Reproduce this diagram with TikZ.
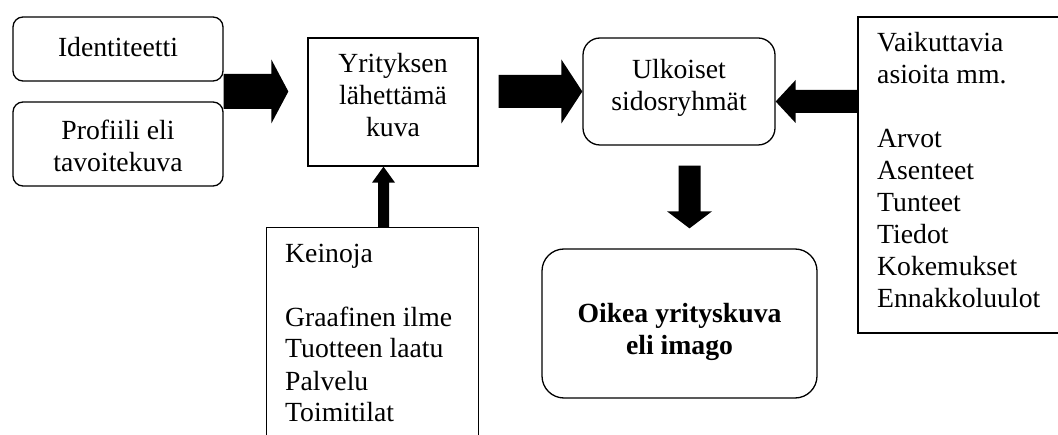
\documentclass[tikz,border=0pt]{standalone}
\usepackage{fontspec}
\setmainfont{Liberation Serif}
\usetikzlibrary{calc}
% horizontal fat arrow: start, tip, body half-width, head half-width, signed head offset
\newcommand{\fatarrowh}[5]{\fill ($(#1)+(0,#3)$) -- ($(#2)+(#5,#3)$) -- ($(#2)+(#5,#4)$) -- (#2) -- ($(#2)+(#5,-#4)$) -- ($(#2)+(#5,-#3)$) -- ($(#1)+(0,-#3)$) -- cycle;}
% vertical fat arrow
\newcommand{\fatarrowv}[5]{\fill ($(#1)+(#3,0)$) -- ($(#2)+(#3,#5)$) -- ($(#2)+(#4,#5)$) -- (#2) -- ($(#2)+(-#4,#5)$) -- ($(#2)+(-#3,#5)$) -- ($(#1)+(-#3,0)$) -- cycle;}
\begin{document}
\begin{tikzpicture}[x=1pt,y=-1pt,
  font=\fontsize{27.7}{32}\selectfont,
  box/.style={draw, line width=1.3pt, inner sep=0pt},
  rbox/.style={box, rounded corners=#1},
  txt/.style={inner sep=0pt, align=center, anchor=base},
  ltxt/.style={inner sep=0pt, align=left, anchor=base west}]
\useasboundingbox (0,0) rectangle (1058,435);
\fill[white] (0,0) rectangle (1058,435);

% boxes
\node[rbox=10pt, minimum width=210pt, minimum height=64pt] (id) at (118,49) {};
\node[rbox=10pt, minimum width=210pt, minimum height=84pt] (pr) at (118,144) {};
\node[box, minimum width=170pt, minimum height=128pt] (yr) at (393,102) {};
\node[rbox=17pt, minimum width=192pt, minimum height=107pt] (ul) at (679,91.5) {};
\node[rbox=22pt, minimum width=275pt, minimum height=149pt] (oi) at (679.5,323.5) {};
\node[box, minimum width=202pt, minimum height=316pt] (rb) at (959,175) {};
\node[inner sep=0pt, minimum width=211pt, minimum height=210pt] (kb) at (372.5,333) {};
\draw[line width=1.3pt] (kb.south west) -- (kb.north west) -- (kb.north east) -- (kb.south east);

% texts (anchored at the baseline of the last line)
\node[txt] (idt) at (118,57) {Identiteetti};
\node[txt] (prt) at (118,172) {Profiili eli\\tavoitekuva};
\node[txt] (yrt) at (393,137) {Yrityksen\\lähettämä\\kuva};
\node[txt] (ult) at (679,111) {Ulkoiset\\sidosryhmät};
\node[txt, font=\fontsize{27.7}{32}\selectfont\bfseries] (oit) at (679.5,355) {Oikea yrityskuva\\eli imago};
\node[ltxt] (rbt) at (877,308) {Vaikuttavia\\asioita mm.\\[32pt]Arvot\\Asenteet\\Tunteet\\Tiedot\\Kokemukset\\Ennakkoluulot};
\node[ltxt] (kbt) at (285,422) {Keinoja\\[32pt]Graafinen ilme\\Tuotteen laatu\\Palvelu\\Toimitilat};

% arrow end points
\coordinate (a1s) at ($(id.south east)!0.5!(pr.north east)$);
\coordinate (a1t) at ($(a1s -| yr.west)+(-19,0)$);
\coordinate (a2s) at ($(ul.west -| yr.east)+(20,0)$);
\coordinate (a2t) at (ul.west);
\coordinate (a3s) at ($(ul.east -| rb.west)+(0,10)$);
\coordinate (a3t) at ($(ul.east)+(0,10)$);
\coordinate (a4s) at ($(ul.south)+(10.5,20)$);
\coordinate (a4t) at ($(a4s |- oi.north)+(0,-20)$);
\coordinate (a5s) at ($(kb.north)+(11,0)$);
\coordinate (a5t) at (a5s |- yr.south);

% arrows
\fatarrowh{a1s}{a1t}{17.5}{32}{-17}
\fatarrowh{a2s}{a2t}{16.5}{32}{-21}
\fatarrowh{a3s}{a3t}{11.5}{21.5}{20}
\fatarrowv{a4s}{a4t}{11}{22.5}{-17}
\fatarrowv{a5s}{a5t}{5.5}{11.5}{16}
\end{tikzpicture}
\end{document}
